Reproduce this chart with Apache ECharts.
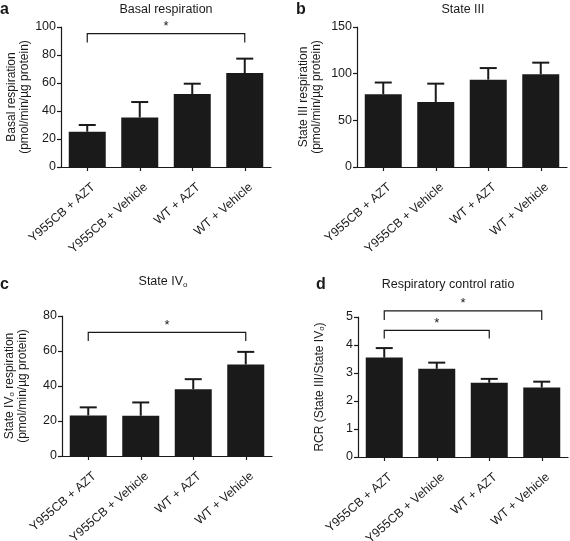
<!DOCTYPE html>
<html><head><meta charset="utf-8">
<script src="https://cdn.jsdelivr.net/npm/echarts@6/dist/echarts.min.js"></script>
<style>html,body{margin:0;padding:0;background:#fff}#c{width:570px;height:541px}</style>
</head><body><div id="c"></div>
<script>
const categories = ['Y955CB + AZT', 'Y955CB + Vehicle', 'WT + AZT', 'WT + Vehicle'];
const basalMean = [25.2, 35.4, 52.1, 67.1];
const basalUpper = [30, 46.4, 59.5, 77.4];
const state3Mean = [77.9, 69.6, 93.6, 99.3];
const state3Upper = [90.5, 89.3, 106, 111.8];
const state4Mean = [23.2, 23, 38.2, 52.3];
const state4Upper = [27.8, 30.6, 43.9, 59.5];
const rcrMean = [3.55, 3.15, 2.65, 2.48];
const rcrUpper = [3.89, 3.37, 2.79, 2.69];
// significance brackets: [fromIndex, toIndex, barY, dropY]
const sigA = [[0, 3, 95.2, 89]];
const sigC = [[0, 3, 70.7, 65.7]];
const sigD = [[0, 3, 5.22, 4.89], [0, 2, 4.52, 4.23]];

const FONT = 'Liberation Sans, Arial, sans-serif';
const INK = '#1a1a1a';

const panels = [
  {left: 61, top: 27, name: 'Basal respiration\n(pmol/min/µg protein)', gap: 28, max: 100, interval: 20, mean: basalMean, upper: basalUpper, sig: sigA},
  {left: 357, top: 27, name: 'State III respiration\n(pmol/min/µg protein)', gap: 34, max: 150, interval: 50, mean: state3Mean, upper: state3Upper, sig: []},
  {left: 62, top: 316, name: 'State IV{sub|o} respiration\n(pmol/min/µg protein)', gap: 33, max: 80, interval: 20, mean: state4Mean, upper: state4Upper, sig: sigC},
  {left: 358, top: 317, name: 'RCR (State III/State IV{sub|o})', gap: 32, max: 5, interval: 1, mean: rcrMean, upper: rcrUpper, sig: sigD}
];

const grid = [], xAxis = [], yAxis = [], series = [];
panels.forEach((p, i) => {
  grid.push({left: p.left, top: p.top, width: 210, height: 140, containLabel: false, outerBoundsMode: 'none'});
  xAxis.push({
    type: 'category', gridIndex: i, data: categories,
    axisLine: {lineStyle: {color: INK, width: 1.2}},
    axisTick: {show: true, alignWithLabel: true, length: 4, lineStyle: {color: INK, width: 1.2}},
    axisLabel: {rotate: 41, margin: 16, color: INK, fontSize: 12.3, fontFamily: FONT, interval: 0,
      align: 'right', verticalAlign: 'top', padding: [0, -3, 0, 0]}
  });
  yAxis.push({
    type: 'value', gridIndex: i, min: 0, max: p.max, interval: p.interval,
    splitLine: {show: false},
    axisLine: {show: true, lineStyle: {color: INK, width: 1.2}},
    axisTick: {show: true, length: 4, lineStyle: {color: INK, width: 1.2}},
    axisLabel: {color: INK, fontSize: 12.5, fontFamily: FONT, margin: 5},
    name: p.name, nameLocation: 'middle', nameGap: p.gap,
    nameTextStyle: {color: INK, fontSize: p.nameSize || 12, fontFamily: FONT, lineHeight: 13,
      rich: {sub: {fontSize: 8, verticalAlign: 'bottom', padding: [6, 0, 0, 0], color: INK, fontFamily: FONT}}}
  });
  series.push({
    type: 'bar', xAxisIndex: i, yAxisIndex: i, data: p.mean, barWidth: 37,
    itemStyle: {color: INK}, z: 2
  });
  series.push({
    type: 'custom', xAxisIndex: i, yAxisIndex: i, z: 3,
    data: p.mean.map((m, k) => [k, m, p.upper[k]]),
    renderItem: (params, api) => {
      const base = api.coord([api.value(0), api.value(1)]);
      const top = api.coord([api.value(0), api.value(2)]);
      const hw = 8.5;
      return {type: 'group', children: [
        {type: 'line', shape: {x1: base[0], y1: base[1], x2: top[0], y2: top[1]}, style: {stroke: INK, lineWidth: 2}},
        {type: 'line', shape: {x1: top[0] - hw, y1: top[1], x2: top[0] + hw, y2: top[1]}, style: {stroke: INK, lineWidth: 2}}
      ]};
    }
  });
  if (p.sig.length) {
    series.push({
      type: 'custom', xAxisIndex: i, yAxisIndex: i, z: 4, clip: false,
      data: p.sig,
      renderItem: (params, api) => {
        const a = api.coord([api.value(0), api.value(2)]);
        const b = api.coord([api.value(1), api.value(2)]);
        const d = api.coord([api.value(0), api.value(3)]);
        return {type: 'group', children: [
          {type: 'polyline', shape: {points: [[a[0], d[1]], [a[0], a[1]], [b[0], b[1]], [b[0], d[1]]]}, style: {stroke: INK, lineWidth: 1.2, fill: null}},
          {type: 'text', style: {text: '*', x: (a[0] + b[0]) / 2, y: a[1] - 7, textAlign: 'center', textVerticalAlign: 'middle', fontSize: 13, fontFamily: FONT, fill: INK}}
        ]};
      }
    });
  }
});

const titleStyle = {color: INK, fontSize: 12.5, fontWeight: 'normal', fontFamily: FONT,
  rich: {sub: {fontSize: 8, verticalAlign: 'bottom', padding: [6, 0, 0, 0], color: INK, fontFamily: FONT}}};
const letterStyle = {color: INK, fontSize: 16, fontWeight: 'bold', fontFamily: FONT};

const chart = echarts.init(document.getElementById('c'), null, {renderer: 'canvas'});
chart.setOption({
  backgroundColor: '#fff',
  animation: false,
  title: [
    {text: 'Basal respiration', left: 166, top: 3, padding: 0, textAlign: 'center', textStyle: titleStyle},
    {text: 'State III', left: 463, top: 3, padding: 0, textAlign: 'center', textStyle: titleStyle},
    {text: 'State IV{sub|o}', left: 163, top: 275, padding: 0, textAlign: 'center', textStyle: titleStyle},
    {text: 'Respiratory control ratio', left: 448, top: 278, padding: 0, textAlign: 'center', textStyle: titleStyle},
    {text: 'a', left: 0, top: 2, padding: 0, textStyle: letterStyle},
    {text: 'b', left: 296, top: 2, padding: 0, textStyle: letterStyle},
    {text: 'c', left: 0, top: 277, padding: 0, textStyle: letterStyle},
    {text: 'd', left: 316, top: 277, padding: 0, textStyle: letterStyle}
  ],
  grid, xAxis, yAxis, series
});
</script>
</body></html>
